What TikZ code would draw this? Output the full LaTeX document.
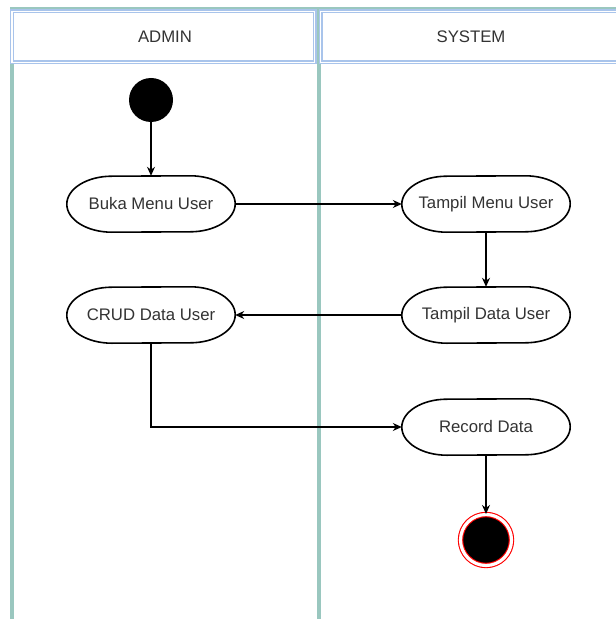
\documentclass[tikz,border=0pt]{standalone}
\usepackage{fontspec}
\setmainfont{Liberation Sans}
\usetikzlibrary{arrows.meta}
\definecolor{lanegreen}{HTML}{9AC7BF}
\definecolor{headblue}{HTML}{A9C4EB}
\definecolor{txtgray}{HTML}{333333}
\tikzset{
  activity/.style={rectangle, minimum width=168bp, minimum height=56bp, inner sep=0pt,
    font=\fontsize{16.8}{20}\selectfont, text=txtgray},
  lanehead/.style={draw=headblue, double=white, double distance=1.3bp,
    line width=1.4bp},
  flow/.style={line width=1.2bp, -{Stealth[length=9bp,width=8bp]}}
}
% outline of an activity: flat top and bottom, elliptic ends
\newcommand\actoutline[1]{%
  \draw[line width=1.6bp] ([xshift=-45bp]#1.north east)
    arc[start angle=90, end angle=-90, x radius=45bp, y radius=28bp]
    -- ([xshift=45bp]#1.south west)
    arc[start angle=270, end angle=90, x radius=45bp, y radius=28bp] -- cycle;}
\begin{document}
\begin{tikzpicture}[x=1bp,y=-1bp]
      \useasboundingbox[fill=white] (0,0) rectangle (616,619);
      % lanes
      \draw[lanegreen, line width=1.6bp] (10,8) -- (616,8);
      \draw[lanegreen, line width=4bp] (12,8) -- (12,619);
      \draw[lanegreen, line width=4bp] (318.7,8) -- (318.7,619);
      \draw[lanehead, fill=white] (12,11.3) rectangle (314.7,62.2);
      \draw[lanehead, fill=white] (320.7,11.3) rectangle (624,62.2);
      \node[font=\fontsize{16.8}{20}\selectfont, text=txtgray] (admin) at (165,36.5) {ADMIN};
      \node[font=\fontsize{16.8}{20}\selectfont, text=txtgray] (system) at (471,36.5) {SYSTEM};
      % states
      \node[circle, fill=black, minimum size=44bp, inner sep=0pt] (start) at (151,100) {};
      \node[activity] (buka) at (151,204) {Buka Menu User};
      \node[activity] (crud) at (151,315) {CRUD Data User};
      \node[activity] (tmenu) at (486,204) {Tampil Menu User};
      \node[activity] (tdata) at (486,315) {Tampil Data User};
      \node[activity] (record) at (486,427) {Record Data};
      \foreach \n in {buka,crud,tmenu,tdata,record} {\actoutline{\n}}
      \node[circle, fill=black, draw=red, double=white, double distance=3.2bp,
        line width=1.1bp, minimum size=51bp, inner sep=0pt] (stop) at (486,540) {};
      \coordinate (bend) at (151,427);
      % flows
      \draw[flow] (start) -- (buka);
      \draw[flow] (buka) -- (tmenu);
      \draw[flow] (tmenu) -- (tdata);
      \draw[flow] (tdata) -- (crud);
      \draw[flow] (crud) -- (bend) -- (record);
      \draw[flow] (record) -- (stop);
    \end{tikzpicture}
\end{document}
